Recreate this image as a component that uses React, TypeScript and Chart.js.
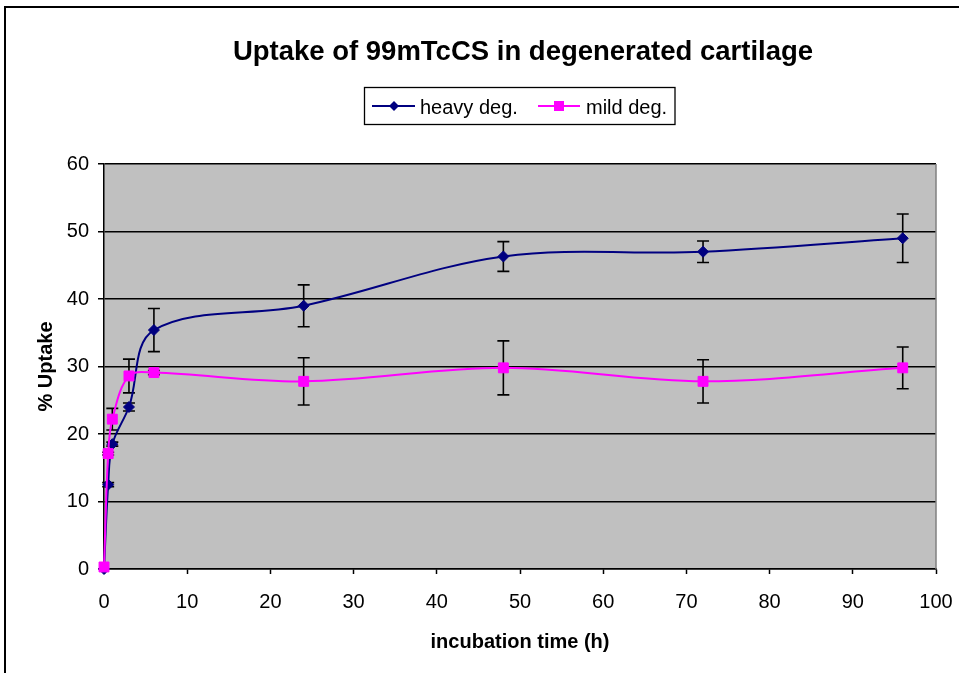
import React, { useEffect, useRef } from 'react';
import { Chart, registerables } from 'chart.js';

Chart.register(...registerables);

const FONT = "'Liberation Sans', Arial, Helvetica, sans-serif";

const chartTitle = 'Uptake of 99mTcCS in degenerated cartilage';
const xAxisTitle = 'incubation time (h)';
const yAxisTitle = '% Uptake';
const seriesNames = ['heavy deg.', 'mild deg.'];

const hours = [0, 0.5, 1, 3, 6, 24, 48, 72, 96];
const heavyUptake = [0, 12.5, 18.5, 24, 35.4, 39, 46.3, 47, 49];
const heavyError = [0, 0.3, 0.3, 0.6, 3.2, 3.1, 2.2, 1.6, 3.6];
const mildUptake = [0.3, 17.1, 22.2, 28.6, 29.1, 27.8, 29.8, 27.8, 29.8];
const mildError = [0, 0.2, 1.6, 2.5, 0.3, 3.5, 4.0, 3.2, 3.1];

const xMin = 0;
const xMax = 100;
const xStep = 10;
const yMin = 0;
const yMax = 60;
const yStep = 10;

const NAVY = '#000080';
const MAGENTA = '#FF00FF';

const errorBarsPlugin = {
  id: 'errorBars',
  beforeDatasetsDraw(chart: any) {
    const ctx = chart.ctx;
    const yScale = chart.scales.y;
    const errs = [heavyError, mildError];
    const vals = [heavyUptake, mildUptake];
    ctx.save();
    ctx.strokeStyle = '#000';
    ctx.lineWidth = 1.6;
    chart.data.datasets.forEach((ds: any, di: number) => {
      const meta = chart.getDatasetMeta(di);
      meta.data.forEach((pt: any, i: number) => {
        const e = errs[di][i];
        if (!e) return;
        const v = vals[di][i];
        const x = pt.x;
        const yt = yScale.getPixelForValue(v + e);
        const yb = yScale.getPixelForValue(v - e);
        ctx.beginPath();
        ctx.moveTo(x, yt);
        ctx.lineTo(x, yb);
        ctx.moveTo(x - 6, yt);
        ctx.lineTo(x + 6, yt);
        ctx.moveTo(x - 6, yb);
        ctx.lineTo(x + 6, yb);
        ctx.stroke();
      });
    });
    ctx.restore();
  },
};

const backgroundPlugin = {
  id: 'bgFrame',
  beforeDraw(chart: any) {
    const { ctx, chartArea, width, height } = chart;
    ctx.save();
    ctx.fillStyle = '#fff';
    ctx.fillRect(0, 0, width, height);
    ctx.fillStyle = '#C0C0C0';
    ctx.fillRect(chartArea.left, chartArea.top, chartArea.right - chartArea.left, chartArea.bottom - chartArea.top);
    ctx.restore();
  },
  afterDraw(chart: any) {
    const { ctx, chartArea, width, height } = chart;
    ctx.save();
    // right plot border
    ctx.strokeStyle = '#808080';
    ctx.lineWidth = 1.5;
    ctx.beginPath();
    ctx.moveTo(chartArea.right, chartArea.top);
    ctx.lineTo(chartArea.right, chartArea.bottom);
    ctx.stroke();
    // outer frame
    ctx.strokeStyle = '#000';
    ctx.lineWidth = 2;
    ctx.beginPath();
    ctx.moveTo(5, height + 5);
    ctx.lineTo(5, 7);
    ctx.lineTo(width + 5, 7);
    ctx.stroke();

    // title
    ctx.fillStyle = '#000';
    ctx.font = `bold 27.5px ${FONT}`;
    ctx.textAlign = 'center';
    ctx.textBaseline = 'alphabetic';
    ctx.fillText(chartTitle, (chartArea.left + chartArea.right) / 2 + 3, 59.5);

    // legend
    const lx = 364.5, ly = 87.5, lw = 310.5, lh = 37;
    ctx.fillStyle = '#fff';
    ctx.fillRect(lx, ly, lw, lh);
    ctx.strokeStyle = '#000';
    ctx.lineWidth = 1.3;
    ctx.strokeRect(lx, ly, lw, lh);
    const rowY = 106;
    const items = [
      { x1: 372, x2: 415, mx: 394, color: NAVY, style: 'diamond', tx: 420, text: seriesNames[0] },
      { x1: 538, x2: 580, mx: 559, color: MAGENTA, style: 'square', tx: 586, text: seriesNames[1] },
    ];
    items.forEach((it) => {
      ctx.strokeStyle = it.color;
      ctx.lineWidth = 1.8;
      ctx.beginPath();
      ctx.moveTo(it.x1, rowY);
      ctx.lineTo(it.x2, rowY);
      ctx.stroke();
      ctx.fillStyle = it.color;
      ctx.beginPath();
      if (it.style === 'diamond') {
        ctx.moveTo(it.mx - 5, rowY);
        ctx.lineTo(it.mx, rowY - 5);
        ctx.lineTo(it.mx + 5, rowY);
        ctx.lineTo(it.mx, rowY + 5);
        ctx.closePath();
      } else {
        ctx.rect(it.mx - 5, rowY - 5, 10, 10);
      }
      ctx.fill();
      ctx.fillStyle = '#000';
      ctx.font = `20px ${FONT}`;
      ctx.textBaseline = 'alphabetic';
      ctx.textAlign = 'left';
      ctx.fillText(it.text, it.tx, 113.5);
    });
    ctx.restore();
  },
};

export default function App() {
  const canvasRef = useRef<HTMLCanvasElement | null>(null);

  useEffect(() => {
    document.body.style.margin = '0';
    const canvas = canvasRef.current;
    if (!canvas) return;
    const chart = new Chart(canvas, {
      type: 'line',
      data: {
        datasets: [
          {
            label: seriesNames[0],
            data: hours.map((h, i) => ({ x: h, y: heavyUptake[i] })),
            borderColor: NAVY,
            backgroundColor: NAVY,
            borderWidth: 2,
            pointStyle: 'rectRot',
            pointRadius: 5.5,
            pointBorderWidth: 1,
            pointBorderColor: NAVY,
            pointBackgroundColor: NAVY,
            tension: 0.35,
            clip: false as any,
            order: 1,
          },
          {
            label: seriesNames[1],
            data: hours.map((h, i) => ({ x: h, y: mildUptake[i] })),
            borderColor: MAGENTA,
            backgroundColor: MAGENTA,
            borderWidth: 2,
            pointStyle: 'rect',
            pointRadius: 7,
            pointBorderWidth: 1,
            pointBorderColor: MAGENTA,
            pointBackgroundColor: MAGENTA,
            tension: 0.35,
            clip: false as any,
            order: 0,
          },
        ],
      },
      options: {
        responsive: false,
        animation: false,
        devicePixelRatio: 1,
        layout: { padding: { left: 0, right: 23, top: 164, bottom: 0 } },
        plugins: {
          legend: { display: false },
          tooltip: { enabled: false },
          title: { display: false },
        },
        scales: {
          x: {
            type: 'linear',
            min: xMin,
            max: xMax,
            ticks: {
              stepSize: xStep,
              color: '#000',
              font: { family: FONT, size: 20 },
              padding: 16,
              maxRotation: 0,
            },
            grid: {
              drawOnChartArea: false,
              drawTicks: true,
              tickLength: 5,
              tickColor: '#000',
              tickWidth: 1.5,
            },
            border: { color: '#000', width: 1.5 },
            title: {
              display: true,
              text: xAxisTitle,
              color: '#000',
              font: { family: FONT, size: 20, weight: 'bold' },
              padding: { top: 0, bottom: 19 },
            },
            afterFit: (s: any) => {
              s.height = 104;
              s.paddingLeft = 0;
              s.paddingRight = 0;
            },
          },
          y: {
            type: 'linear',
            min: yMin,
            max: yMax,
            ticks: {
              stepSize: yStep,
              color: '#000',
              font: { family: FONT, size: 20 },
              padding: 9,
            },
            grid: {
              color: '#000',
              lineWidth: 1.5,
              tickLength: 6,
              tickColor: '#000',
              tickWidth: 1.5,
            },
            border: { color: '#000', width: 1.5 },
            title: {
              display: true,
              text: yAxisTitle,
              color: '#000',
              font: { family: FONT, size: 20, weight: 'bold' },
              padding: { top: 34, bottom: 0 },
            },
            afterFit: (s: any) => {
              s.width = 104;
              s.paddingTop = 0;
              s.paddingBottom = 0;
            },
          },
        },
      },
      plugins: [backgroundPlugin, errorBarsPlugin],
    });
    return () => chart.destroy();
  }, []);

  return (
    <div style={{ width: 959, height: 673, position: 'relative' }}>
      <canvas ref={canvasRef} width={959} height={673} style={{ display: 'block' }} />
    </div>
  );
}
